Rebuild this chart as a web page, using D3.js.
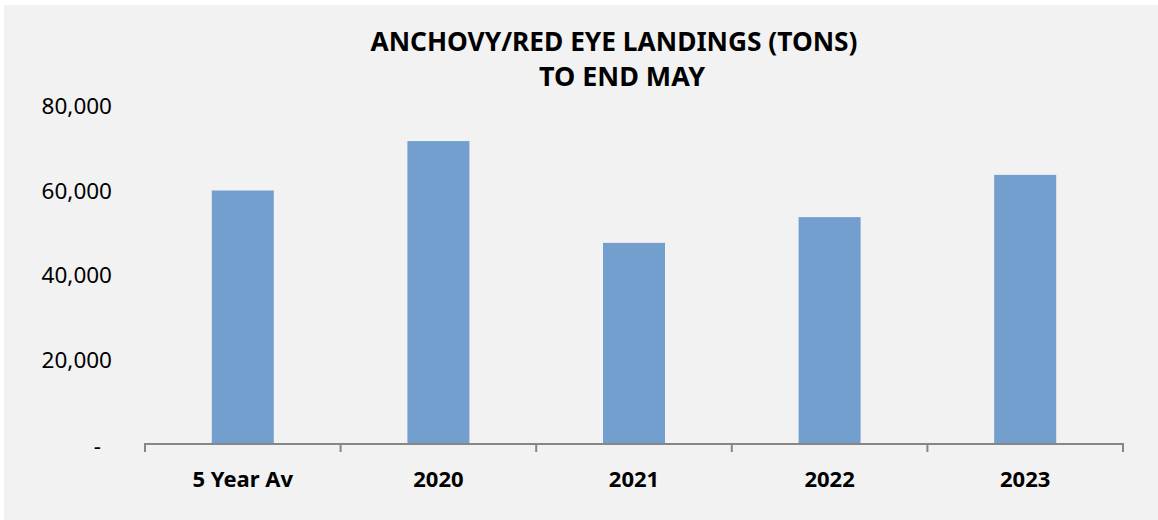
<!DOCTYPE html>
<html><head><meta charset="utf-8">
<script src="https://cdn.jsdelivr.net/npm/d3@7"></script>
<style>html,body{margin:0;padding:0;background:#fff;}svg{display:block;}</style>
</head><body>
<svg id="chart" width="1158" height="520"></svg>
<script>
const categories = ["5 Year Av", "2020", "2021", "2022", "2023"];
const values = [60000, 71700, 47600, 53700, 63700];
const yTicks = [0, 20000, 40000, 60000, 80000];
const titleLines = ["ANCHOVY/RED EYE LANDINGS (TONS)", "TO END MAY"];

const svg = d3.select("#chart");
svg.append("rect").attr("x", 4).attr("y", 5).attr("width", 1154).attr("height", 515).attr("fill", "#f2f2f2");

const x = d3.scaleBand().domain(categories).range([145, 1123]).paddingInner(0).paddingOuter(0);
const y = d3.scaleLinear().domain([0, 80000]).range([444, 106]);

// title
const tl = [{t: titleLines[0], x: 614, y: 51, w: 487}, {t: titleLines[1], x: 622, y: 86, w: 166}];
svg.selectAll("text.title").data(tl).join("text")
  .attr("class", "title")
  .attr("x", d => d.x).attr("y", d => d.y)
  .attr("text-anchor", "middle")
  .attr("font-family", "Noto Sans, sans-serif")
  .attr("font-weight", "bold").attr("font-size", 26)
  .attr("textLength", d => d.w).attr("lengthAdjust", "spacingAndGlyphs")
  .attr("fill", "#000").text(d => d.t);

// bars
const bw = x.bandwidth() * 0.317;
svg.selectAll("rect.bar").data(values).join("rect")
  .attr("class", "bar")
  .attr("x", (d, i) => x(categories[i]) + x.bandwidth() / 2 - bw / 2)
  .attr("y", d => y(d))
  .attr("width", bw)
  .attr("height", d => y(0) - y(d))
  .attr("fill", "#729fcd");

// y axis labels
const yAxis = d3.axisLeft(y).tickValues(yTicks).tickSize(0).tickPadding(0)
  .tickFormat(d => d === 0 ? "-" : d3.format(",")(d));
const gy = svg.append("g").attr("transform", "translate(112,0)").call(yAxis);
gy.select(".domain").remove();
gy.selectAll("text").attr("font-family", "Noto Sans, sans-serif").attr("font-size", 22.5).attr("fill", "#000")
  .attr("dy", "0.35em");
gy.selectAll(".tick").filter(d => d === 0).select("text").attr("x", -11).attr("dy", "0.4em");

// x axis
const gx = svg.append("g").attr("transform", "translate(0,444)");
gx.append("line").attr("x1", 145).attr("x2", 1123).attr("y1", 0).attr("y2", 0)
  .attr("stroke", "#868686").attr("stroke-width", 2);
const bounds = categories.map(c => x(c)).concat([x.range()[1]]);
gx.selectAll("line.tk").data(bounds).join("line").attr("class", "tk")
  .attr("x1", d => d).attr("x2", d => d).attr("y1", -1).attr("y2", 8)
  .attr("stroke", "#868686").attr("stroke-width", 2);
gx.selectAll("text").data(categories).join("text")
  .attr("x", d => x(d) + x.bandwidth() / 2).attr("y", 43)
  .attr("text-anchor", "middle")
  .attr("font-family", "Noto Sans, sans-serif").attr("font-weight", "bold").attr("font-size", 22)
  .attr("fill", "#000").text(d => d);
</script>
</body></html>
